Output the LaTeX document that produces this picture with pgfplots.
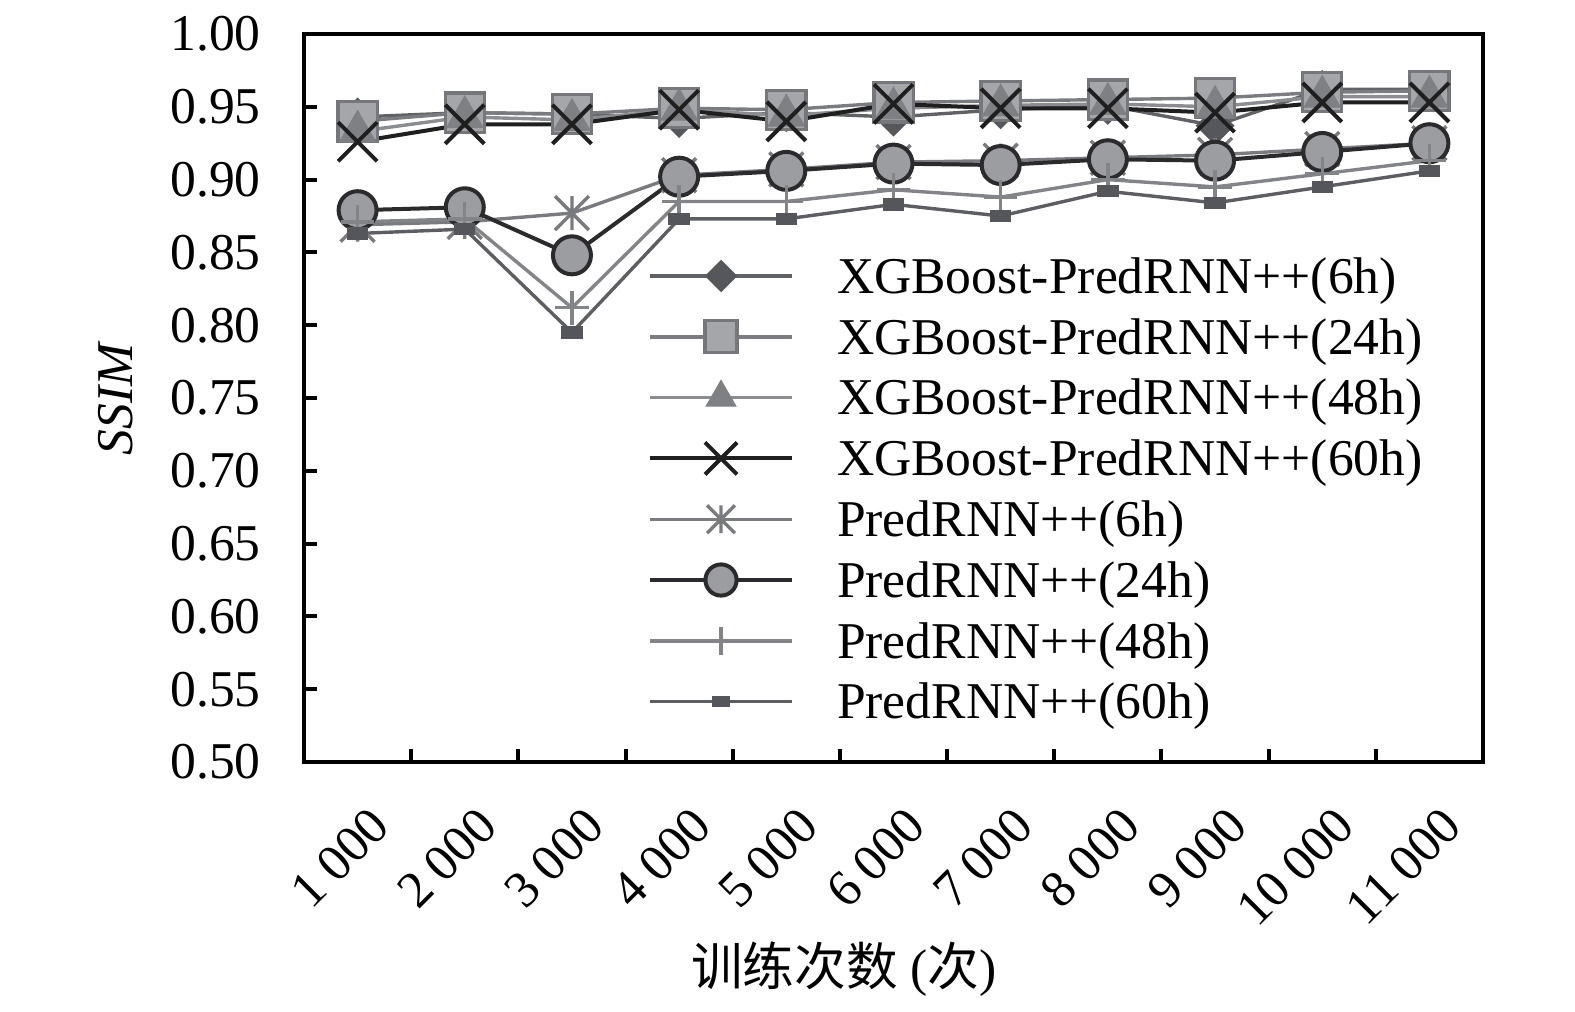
\documentclass[border=0pt]{standalone}
\usepackage{fontspec}
\setmainfont{Liberation Serif}
\newfontfamily\cjk{Noto Sans CJK SC}
\usepackage{pgfplots}
\pgfplotsset{compat=1.18}
\definecolor{cA}{HTML}{616266}
\definecolor{cAf}{HTML}{55575C}
\definecolor{cB}{HTML}{7B7C80}
\definecolor{cBf}{HTML}{A5A6A9}
\definecolor{cBd}{HTML}{76777B}
\definecolor{cC}{HTML}{8C8D90}
\definecolor{cCf}{HTML}{7F8084}
\definecolor{cD}{HTML}{1F1F1F}
\definecolor{cE}{HTML}{7A7B7F}
\definecolor{cF}{HTML}{2B2B2D}
\definecolor{cFf}{HTML}{9C9DA1}
\definecolor{cG}{HTML}{838488}
\definecolor{cH}{HTML}{5C5E62}
\definecolor{cHf}{HTML}{54565B}
\pgfdeclareplotmark{xstar}{%
\pgfpathmoveto{\pgfqpoint{0pt}{.7071\pgfplotmarksize}}%
\pgfpathlineto{\pgfqpoint{0pt}{-.7071\pgfplotmarksize}}%
\pgfpathmoveto{\pgfqpoint{-.7071\pgfplotmarksize}{-.7071\pgfplotmarksize}}%
\pgfpathlineto{\pgfqpoint{.7071\pgfplotmarksize}{.7071\pgfplotmarksize}}%
\pgfpathmoveto{\pgfqpoint{-.7071\pgfplotmarksize}{.7071\pgfplotmarksize}}%
\pgfpathlineto{\pgfqpoint{.7071\pgfplotmarksize}{-.7071\pgfplotmarksize}}%
\pgfusepathqstroke}
\newcommand{\ts}{\hspace{0.22em}}
\begin{document}
\begin{tikzpicture}
\useasboundingbox (-76pt,-62.25pt) rectangle (317.75pt,190.5pt);
\begin{axis}[
  scale only axis,
  width=294.75pt, height=182pt,
  xmin=-0.5, xmax=10.5,
  ymin=0.5, ymax=1.0,
  axis line style={line width=1pt},
  tick align=inside,
  xtick pos=bottom, ytick pos=left,
  xtick={0,...,10},
  xticklabels={1\ts000,2\ts000,3\ts000,4\ts000,5\ts000,6\ts000,7\ts000,8\ts000,9\ts000,10\ts000,11\ts000},
  major x tick style={draw=none},
  minor xtick={0.5,1.5,...,9.5},
  minor tick length=3.3pt,
  major tick length=3.3pt,
  every tick/.style={black, line width=1pt},
  ytick={0.5,0.55,...,1.01},
  /pgf/number format/fixed,
  /pgf/number format/fixed zerofill,
  /pgf/number format/precision=2,
  /pgf/number format/assume math mode=true,
  tick label style={font=\fontsize{12.9}{15}\selectfont},
  yticklabel style={inner sep=0pt, xshift=-10.6pt},
  xticklabel style={inner sep=0pt, xshift=2.6pt, yshift=-10.5pt, rotate=45, anchor=north east},
  ylabel={\textit{SSIM}},
  ylabel style={font=\fontsize{12.9}{15}\selectfont, at={(axis description cs:-0.160,0.5)}, anchor=center},
  xlabel={{\cjk 训练次数} ({\cjk 次})},
  xlabel style={font=\fontsize{12.9}{15}\selectfont, at={(axis description cs:0.458,-0.284)}, anchor=center},
  legend cell align=left,
  legend style={draw=none, fill=none, inner sep=0pt, outer sep=0pt,
    at={(axis description cs:0.2918,0.7033)}, anchor=north west,
    font=\fontsize{12.9}{15}\selectfont,
    row sep=2.2pt, column sep=10.75pt,
    nodes={inner sep=0pt, text height=10.8pt, text depth=2.2pt}},
  legend image code/.code={\draw[mark repeat=2,mark phase=2,#1, every mark/.append style={scale=0.82}] plot coordinates {(0pt,0pt) (17.75pt,0pt) (35.5pt,0pt)};},
]
\addplot[cA, line width=0.85pt, mark=square*, mark size=3.2pt, mark options={rotate=45, fill=cAf, draw=cAf, line width=0.5pt}]
coordinates {(0,0.943)(1,0.946)(2,0.945)(3,0.942)(4,0.946)(5,0.943)(6,0.948)(7,0.951)(8,0.937)(9,0.962)(10,0.962)};
\addlegendentry{XGBoost-PredRNN++(6h)}
\addplot[cB, line width=0.85pt, mark=square*, mark size=4.9pt, mark options={fill=cBf, draw=cBd, line width=0.8pt}]
coordinates {(0,0.940)(1,0.946)(2,0.945)(3,0.949)(4,0.948)(5,0.953)(6,0.954)(7,0.955)(8,0.956)(9,0.960)(10,0.961)};
\addlegendentry{XGBoost-PredRNN++(24h)}
\addplot[cC, line width=0.85pt, mark=triangle*, mark size=5.2pt, mark options={fill=cCf, draw=cCf, line width=0.3pt}]
coordinates {(0,0.933)(1,0.943)(2,0.941)(3,0.948)(4,0.944)(5,0.949)(6,0.951)(7,0.952)(8,0.950)(9,0.957)(10,0.957)};
\addlegendentry{XGBoost-PredRNN++(48h)}
\addplot[cD, line width=1pt, mark=x, mark size=6.9pt, mark options={draw=cD, line width=1pt}]
coordinates {(0,0.926)(1,0.938)(2,0.938)(3,0.948)(4,0.940)(5,0.952)(6,0.949)(7,0.949)(8,0.946)(9,0.953)(10,0.953)};
\addlegendentry{XGBoost-PredRNN++(60h)}
\addplot[cE, line width=0.85pt, mark=xstar, mark size=6pt, mark options={draw=cE, line width=0.85pt}]
coordinates {(0,0.869)(1,0.871)(2,0.877)(3,0.903)(4,0.907)(5,0.912)(6,0.913)(7,0.915)(8,0.917)(9,0.921)(10,0.925)};
\addlegendentry{PredRNN++(6h)}
\addplot[cF, line width=1pt, mark=*, mark size=4.75pt, mark options={fill=cFf, draw=cF, line width=1pt}]
coordinates {(0,0.879)(1,0.881)(2,0.848)(3,0.902)(4,0.906)(5,0.911)(6,0.910)(7,0.914)(8,0.913)(9,0.919)(10,0.925)};
\addlegendentry{PredRNN++(24h)}
\addplot[cG, line width=0.85pt, mark=+, mark size=4.2pt, mark options={draw=cG, line width=0.85pt}]
coordinates {(0,0.871)(1,0.873)(2,0.812)(3,0.885)(4,0.885)(5,0.893)(6,0.888)(7,0.900)(8,0.895)(9,0.904)(10,0.913)};
\addlegendentry{PredRNN++(48h)}
\addplot[cH, line width=0.85pt, mark=square*, mark size=1.4pt, mark options={xscale=1.8, fill=cHf, draw=cHf, line width=0.3pt}]
coordinates {(0,0.863)(1,0.866)(2,0.795)(3,0.873)(4,0.873)(5,0.883)(6,0.875)(7,0.892)(8,0.884)(9,0.895)(10,0.906)};
\addlegendentry{PredRNN++(60h)}
\end{axis}
\end{tikzpicture}
\end{document}
